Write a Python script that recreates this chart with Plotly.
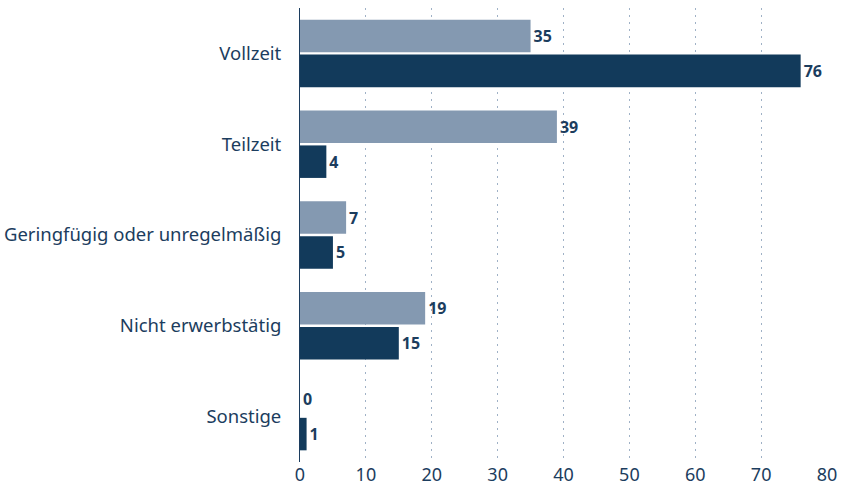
import plotly.graph_objects as go

categories = ["Vollzeit", "Teilzeit", "Geringfügig oder unregelmäßig", "Nicht erwerbstätig", "Sonstige"]
series_a = [35, 39, 7, 19, 0]
series_b = [76, 4, 5, 15, 1]
x_ticks = [0, 10, 20, 30, 40, 50, 60, 70, 80]

text_color = "#1c3d5e"
font_family = "Noto Sans, sans-serif"

fig = go.Figure()
fig.add_trace(go.Bar(
    y=categories, x=series_a, orientation="h",
    marker=dict(color="#8499b1", line=dict(width=0)),
    text=[str(v) for v in series_a], textposition="outside",
    textfont=dict(size=16, color=text_color, family=font_family, weight="bold"),
    cliponaxis=False, showlegend=False,
))
fig.add_trace(go.Bar(
    y=categories, x=series_b, orientation="h",
    marker=dict(color="#123a5b", line=dict(width=0)),
    text=[str(v) for v in series_b], textposition="outside",
    textfont=dict(size=16, color=text_color, family=font_family, weight="bold"),
    cliponaxis=False, showlegend=False,
))

fig.update_layout(
    width=841, height=492,
    margin=dict(l=300, r=14, t=8, b=30),
    barmode="group", bargap=0.23, bargroupgap=0.07,
    plot_bgcolor="white", paper_bgcolor="white",
    font=dict(family=font_family, size=18.5, color=text_color),
    xaxis=dict(
        range=[0, 80], tickvals=x_ticks, ticktext=[str(t) for t in x_ticks],
        showgrid=True, gridcolor="#9fb1c6", griddash="2px,5px", gridwidth=1,
        zeroline=False, showline=False, ticks="", ticklen=0, automargin=False,
        tickfont=dict(size=18, color=text_color),
    ),
    yaxis=dict(
        autorange="reversed", showgrid=False, zeroline=False,
        showline=True, linecolor="#1c3d5e", linewidth=1,
        ticks="", ticklabelstandoff=14, automargin=False,
        tickfont=dict(size=18.5, color=text_color),
    ),
)

fig.write_html(
    "out.html",
    config={"displayModeBar": False},
    post_script="document.body.style.margin='0';document.body.style.padding='0';",
)
